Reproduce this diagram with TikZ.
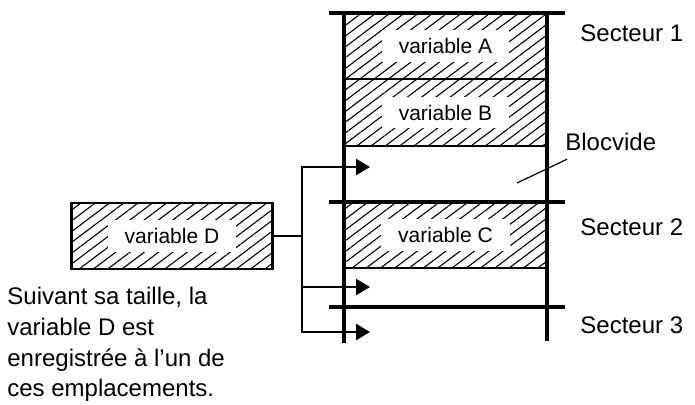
\documentclass[tikz,border=0pt]{standalone}
\usepackage{fontspec}
\setmainfont{Liberation Sans}
\usetikzlibrary{arrows.meta,positioning,calc,patterns.meta}

\begin{document}
\begin{tikzpicture}[
  x=0.5pt, y=-0.5pt,
  hatched/.style={pattern={Lines[angle=37,distance=4.3pt,line width=0.55pt]}},
  hatchbox/.style={hatched, inner sep=0pt, minimum width=101.5pt, minimum height=33pt},
  varbox/.style={draw, line width=1.4pt, hatched, inner sep=0pt, minimum width=100.5pt, minimum height=33pt},
  varlabel/.style={fill=white, inner xsep=8.5pt, inner ysep=4pt, font=\fontsize{10.5}{12}\selectfont},
  wall/.style={line width=2.2pt},
  sector/.style={line width=2.2pt},
  divider/.style={line width=1.3pt},
  link/.style={line width=1.3pt},
  feed/.style={line width=1.3pt, -{Triangle[length=7pt,width=8pt]}},
  pointer/.style={line width=0.6pt},
  note/.style={font=\fontsize{12}{15.3}\selectfont, inner sep=0pt}
]
\useasboundingbox (0,0) rectangle (695,404);

% blocs occupes
\node[hatchbox] (blkA) at (445.5,46) {};
\node[hatchbox] (blkB) at (445.5,112.5) {};
\node[hatchbox] (blkC) at (445.5,235) {};
\node[varlabel] (varA) at (blkA) {variable A};
\node[varlabel] (varB) at (blkB) {variable B};
\node[varlabel] (varC) at (blkC) {variable C};

% separations
\draw[divider] (344,79) -- (547,79);
\draw[divider] (344,146) -- (547,146);
\draw[divider] (344,268) -- (547,268);
\draw[sector] (329,13) -- (565,13);
\draw[sector] (329,202) -- (565,202);
\draw[sector] (329,307) -- (565,307);
\draw[wall] (344,13) -- (344,343);
\draw[wall] (547,13) -- (547,341);

% secteurs
\node[note, anchor=west] (sec1) at (580,33) {Secteur 1};
\node[note, anchor=west] (sec2) at (580,227) {Secteur 2};
\node[note, anchor=west] (sec3) at (580,325) {Secteur 3};

% bloc vide
\coordinate (gap) at (517,183);
\node[note, anchor=west] (blocvide) at (565,142) {Blocvide};
\draw[pointer] (gap) -- ($(blocvide.south west)+(2,8)$);

% variable a placer
\node[varbox] (boxD) at (172,236) {};
\node[varlabel] (varD) at (boxD) {variable D};
\node[note, align=left, anchor=north west] (remark) at (7,287)
  {Suivant sa taille, la\\variable D est\\enregistrée à l’un de\\ces emplacements.};

% emplacements possibles
\coordinate (fork) at (302,236);
\coordinate (slot1) at (370,167);
\coordinate (slot2) at (370,287);
\coordinate (slot3) at (370,332);
\draw[link] (boxD.east) -- (fork);
\draw[feed] (fork) |- (slot1);
\draw[feed] (fork) |- (slot3);
\draw[feed] (fork |- slot2) -- (slot2);
\end{tikzpicture}
\end{document}
